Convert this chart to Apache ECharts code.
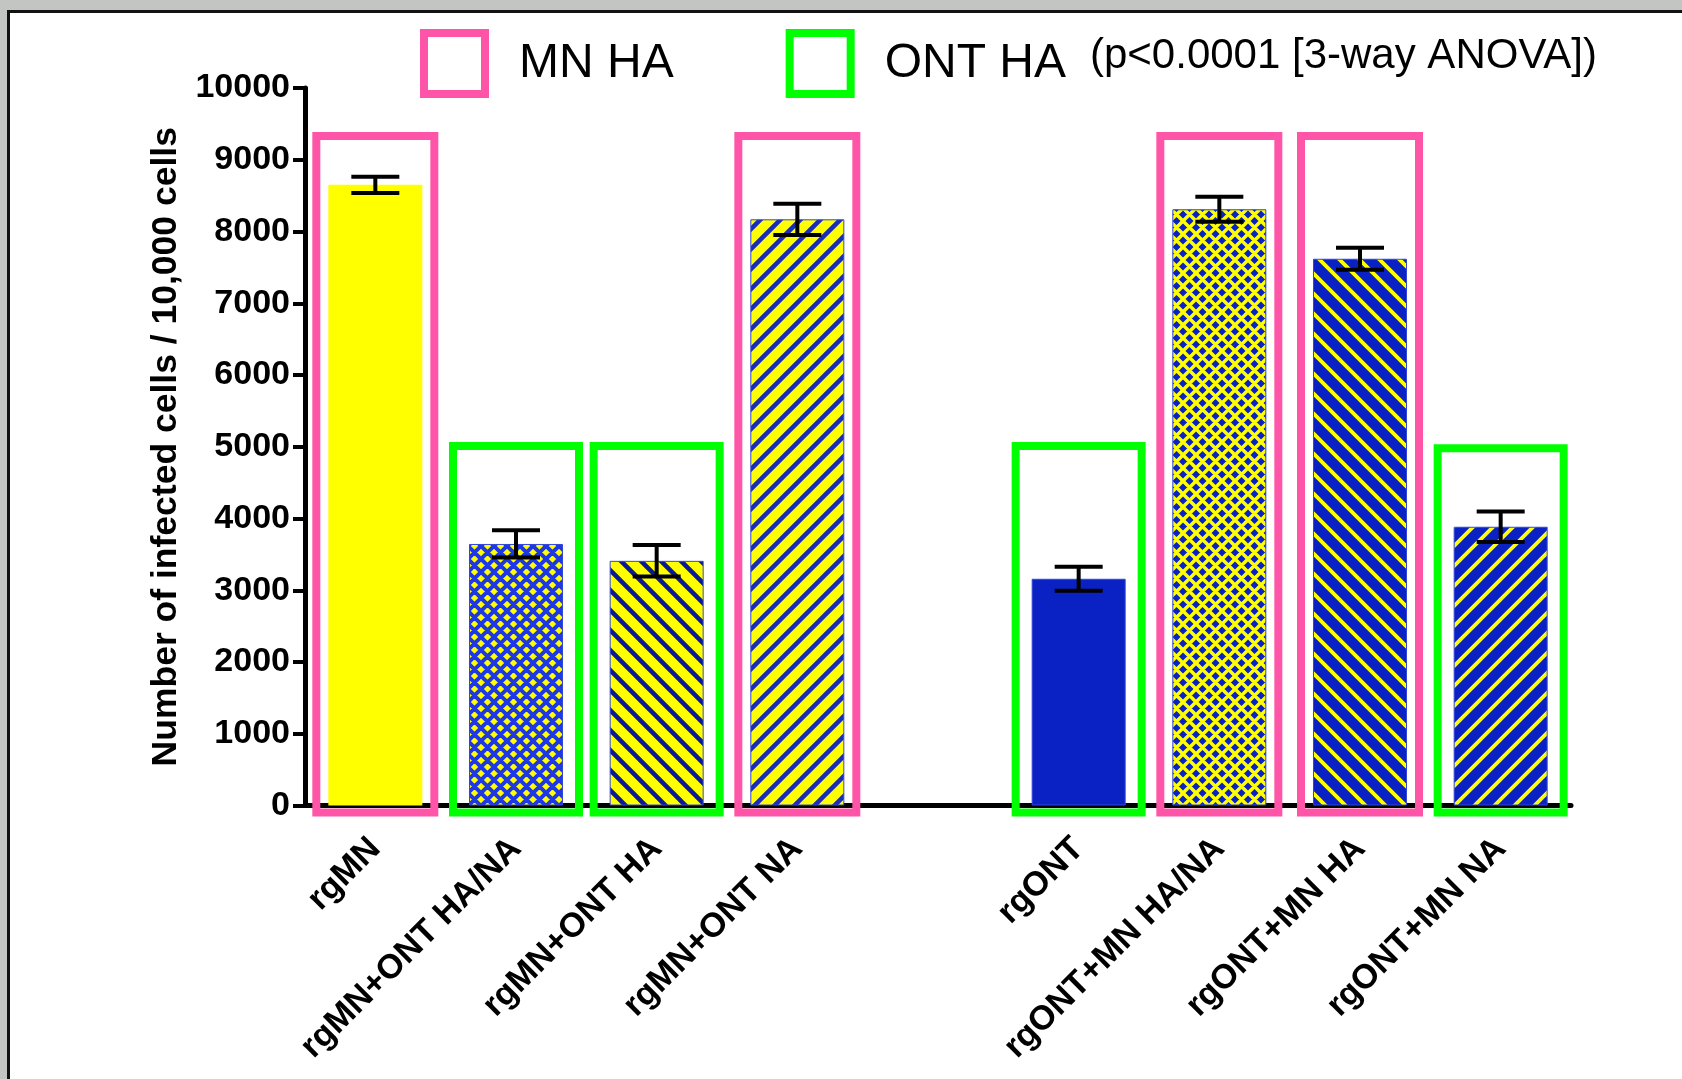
<!DOCTYPE html>
<html>
<head>
<meta charset="utf-8">
<script src="https://cdn.jsdelivr.net/npm/echarts@6/dist/echarts.min.js"></script>
<style>
html, body { margin: 0; padding: 0; background: #fff; }
#chart { width: 1682px; height: 1079px; }
</style>
</head>
<body>
<div id="chart"></div>
<script>
// bar chart: infected cells per 10,000, reassortant viruses
var categories = ['rgMN', 'rgMN+ONT HA/NA', 'rgMN+ONT HA', 'rgMN+ONT NA', '',
  'rgONT', 'rgONT+MN HA/NA', 'rgONT+MN HA', 'rgONT+MN NA'];
var means = [8650, 3645, 3410, 8170, null, 3160, 8310, 7620, 3885];
var sem = [112, 190, 220, 218, null, 168, 175, 152, 214];

// outline boxes: which HA the virus carries
var mnHaIdx = [0, 3, 6, 7];
var mnHaTop = [9330, 9330, 9330, 9330];
var ontHaIdx = [1, 2, 5, 8];
var ontHaTop = [5010, 5010, 5010, 4980];

var yMin = 0, yMax = 10000, yStep = 1000;
var pText = '(p<0.0001 [3-way ANOVA])';

var FONT = '"Liberation Sans", Arial, Helvetica, sans-serif';
var YEL = '#ffff00', BLU = '#0a22c4';
var PINK = '#ff55a8', GREEN = '#00ff00';

// hatch fills drawn on a small canvas tile
function hatch(bg, fg, s, lw, kind) {
	var c = document.createElement('canvas');
	c.width = s; c.height = s;
	var g = c.getContext('2d');
	g.fillStyle = bg;
	g.fillRect(0, 0, s, s);
	g.strokeStyle = fg;
	g.lineWidth = lw;
	g.beginPath();
	for (var k = -1; k <= 1; k++) {
		// lines run past the tile so the joins have no gaps
		if (kind === 'fwd' || kind === 'cross') { g.moveTo(k * s - s, 2 * s); g.lineTo(k * s + 2 * s, -s); }
		if (kind === 'back' || kind === 'cross') { g.moveTo(k * s - s, -s); g.lineTo(k * s + 2 * s, 2 * s); }
	}
	g.stroke();
	return { image: c, repeat: 'repeat' };
}

var fills = [
	YEL,
	hatch(YEL, '#1f38e6', 13, 4, 'cross'),
	hatch(YEL, '#0b1a8f', 20, 4.5, 'back'),
	hatch(YEL, '#1a2cc0', 20, 4.5, 'fwd'),
	null,
	BLU,
	hatch(BLU, YEL, 13, 3.5, 'cross'),
	hatch(BLU, YEL, 20, 3.8, 'back'),
	hatch(BLU, YEL, 20, 3.8, 'fwd')
];

var barData = means.map(function (v, i) {
	if (v == null) return '-';
	return {
		value: v,
		itemStyle: {
			color: fills[i],
			borderColor: i === 0 ? YEL : '#3346d8',
			borderWidth: i === 0 ? 0 : 1
		}
	};
});

var errData = [];
means.forEach(function (v, i) {
	if (v != null) errData.push([i, v - sem[i], v + sem[i]]);
});

function boxSeries(name, idx, tops, color, width) {
	return {
		type: 'custom',
		name: name,
		z: 1,
		silent: true,
		itemStyle: { color: color },
		data: idx.map(function (c, k) { return [c, tops[k]]; }),
		encode: { x: 0, y: 1 },
		renderItem: function (params, api) {
			var top = api.coord([api.value(0), api.value(1)]);
			var base = api.coord([api.value(0), 0]);
			return {
				type: 'rect',
				shape: { x: top[0] - width / 2, y: top[1], width: width, height: base[1] + 7 - top[1] },
				style: { fill: null, stroke: color, lineWidth: 8 }
			};
		}
	};
}

var chart = echarts.init(document.getElementById('chart'));

var option = {
	backgroundColor: '#fff',
	animation: false,
	textStyle: { fontFamily: FONT },
	graphic: [
		{ type: 'rect', shape: { x: 0, y: 0, width: 1682, height: 10 }, style: { fill: '#c3c5c3' }, z: 0 },
		{ type: 'rect', shape: { x: 0, y: 0, width: 7, height: 1079 }, style: { fill: '#c3c5c3' }, z: 0 },
		{ type: 'rect', shape: { x: 7, y: 10, width: 1675, height: 3 }, style: { fill: '#111' }, z: 0 },
		{ type: 'rect', shape: { x: 7, y: 10, width: 3, height: 1069 }, style: { fill: '#111' }, z: 0 },
		{
			type: 'text', x: 1090, y: 56,
			style: { text: pText, fontSize: 42, fontFamily: FONT, fill: '#000', verticalAlign: 'middle' }
		}
	],
	legend: {
		left: 420,
		top: 29,
		padding: 0,
		itemWidth: 61,
		itemHeight: 61,
		itemGap: 112,
		selectedMode: false,
		textStyle: { fontSize: 48, fontFamily: FONT, color: '#000', padding: [0, 0, 0, 29] },
		data: [
			{ name: 'MN HA', icon: 'rect', itemStyle: { color: 'transparent', borderColor: PINK, borderWidth: 8 } },
			{ name: 'ONT HA', icon: 'rect', itemStyle: { color: 'transparent', borderColor: GREEN, borderWidth: 8 } }
		]
	},
	grid: {
		left: 305,
		right: 111,
		top: 88,
		bottom: 273.5,
		outerBoundsMode: 'none'
	},
	xAxis: {
		type: 'category',
		data: categories,
		axisLine: { lineStyle: { color: '#000', width: 5, cap: 'round' } },
		axisTick: { alignWithLabel: true, length: 8, lineStyle: { color: '#000', width: 3 } },
		axisLabel: {
			interval: 0,
			rotate: 45,
			margin: 38,
			color: '#000',
			fontSize: 34,
			fontWeight: 'bold',
			fontFamily: FONT
		}
	},
	yAxis: {
		type: 'value',
		min: yMin,
		max: yMax,
		interval: yStep,
		name: 'Number of infected cells / 10,000 cells',
		nameLocation: 'middle',
		nameRotate: 90,
		nameGap: 117,
		nameTextStyle: { fontSize: 35.5, fontWeight: 'bold', color: '#000', fontFamily: FONT },
		axisLine: { show: true, lineStyle: { color: '#000', width: 5 } },
		axisTick: { show: true, length: 12, lineStyle: { color: '#000', width: 4 } },
		splitLine: { show: false },
		axisLabel: {
			margin: 15,
			color: '#000',
			fontSize: 34,
			fontWeight: 'bold',
			fontFamily: FONT,
			formatter: function (v) { return String(v); }
		}
	},
	series: [
		boxSeries('MN HA', mnHaIdx, mnHaTop, PINK, 118),
		boxSeries('ONT HA', ontHaIdx, ontHaTop, GREEN, 126),
		{
			type: 'bar',
			name: 'mean',
			barWidth: 94,
			z: 2,
			data: barData
		},
		{
			type: 'custom',
			name: 'SEM',
			z: 5,
			silent: true,
			data: errData,
			encode: { x: 0, y: [1, 2] },
			renderItem: function (params, api) {
				var lo = api.coord([api.value(0), api.value(1)]);
				var hi = api.coord([api.value(0), api.value(2)]);
				var hw = 24;
				var st = { stroke: '#000', lineWidth: 4 };
				return {
					type: 'group',
					children: [
						{ type: 'line', shape: { x1: hi[0], y1: hi[1], x2: lo[0], y2: lo[1] }, style: st },
						{ type: 'line', shape: { x1: hi[0] - hw, y1: hi[1], x2: hi[0] + hw, y2: hi[1] }, style: st },
						{ type: 'line', shape: { x1: lo[0] - hw, y1: lo[1], x2: lo[0] + hw, y2: lo[1] }, style: st }
					]
				};
			}
		}
	]
};

chart.setOption(option);
</script>
</body>
</html>
